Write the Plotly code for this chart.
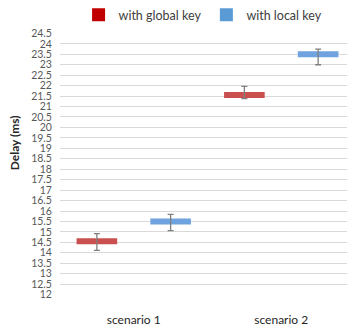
import plotly.graph_objects as go

categories = ["scenario 1", "scenario 2"]
series_names = ["with global key", "with local key"]
global_vals = [14.55, 21.55]
global_err_plus = [0.37, 0.42]
global_err_minus = [0.43, 0.17]
local_vals = [15.5, 23.5]
local_err_plus = [0.34, 0.25]
local_err_minus = [0.44, 0.5]
y_ticks = [12 + 0.5 * i for i in range(26)]

cat_pos = list(range(len(categories)))
offset = 0.25
marker_colors = ["#C9504F", "#6FA3DF"]
legend_colors = ["#C00000", "#5B9BD5"]
font_family = "Lato, 'Open Sans', sans-serif"

fig = go.Figure()

series = [
    (global_vals, global_err_plus, global_err_minus, -offset),
    (local_vals, local_err_plus, local_err_minus, offset),
]

for i, (vals, ep, em, off) in enumerate(series):
    xs = [c + off for c in cat_pos]
    fig.add_trace(go.Scatter(
        x=xs, y=vals, mode="markers", showlegend=False, hoverinfo="skip",
        marker=dict(symbol="line-ew", size=29,
                    line=dict(width=6, color=marker_colors[i])),
    ))
for i, (vals, ep, em, off) in enumerate(series):
    xs = [c + off for c in cat_pos]
    fig.add_trace(go.Scatter(
        x=xs, y=vals, mode="markers", showlegend=False, hoverinfo="skip",
        marker=dict(size=1, opacity=0),
        error_y=dict(type="data", array=ep, arrayminus=em, visible=True,
                     color="#7F7F7F", thickness=1.3, width=3),
    ))
for i, name in enumerate(series_names):
    fig.add_trace(go.Scatter(
        x=[None], y=[None], mode="markers", name=name,
        marker=dict(symbol="square", size=13, color=legend_colors[i]),
    ))

# page body has an 8px default margin, so the figure is 8px smaller
fig.update_layout(
    width=347, height=324,
    margin=dict(l=52, r=0, t=25, b=37, autoexpand=False),
    plot_bgcolor="white", paper_bgcolor="white",
    font=dict(family=font_family, color="#595959", size=11),
    legend=dict(orientation="h", x=0.485, xanchor="center", y=1.068,
                yanchor="middle", font=dict(size=12.5, color="#404040"),
                itemwidth=30, tracegroupgap=0),
    xaxis=dict(range=[-0.5, 1.5], tickmode="array", tickvals=cat_pos,
               ticktext=categories, showgrid=False, zeroline=False,
               ticks="outside", ticklen=14, tickcolor="rgba(0,0,0,0)",
               tickfont=dict(size=12, color="#262626"), showline=False,
               automargin=False, fixedrange=True),
    yaxis=dict(range=[11.98, 24.52], tickmode="array", tickvals=y_ticks,
               ticktext=[f"{v:g}" for v in y_ticks],
               showgrid=True, gridcolor="#D9D9D9", gridwidth=1,
               zeroline=False, showline=False, automargin=False,
               ticks="outside", ticklen=5, tickcolor="rgba(0,0,0,0)",
               tickfont=dict(size=10.5, color="#595959")),
    annotations=[dict(text="<b>Delay (ms)</b>", xref="paper", yref="paper",
                      x=0, y=0.579, xanchor="center", yanchor="middle",
                      xshift=-46, textangle=-90, showarrow=False,
                      font=dict(size=12, color="#262626", family=font_family))],
)

fig.write_html("out.html")
